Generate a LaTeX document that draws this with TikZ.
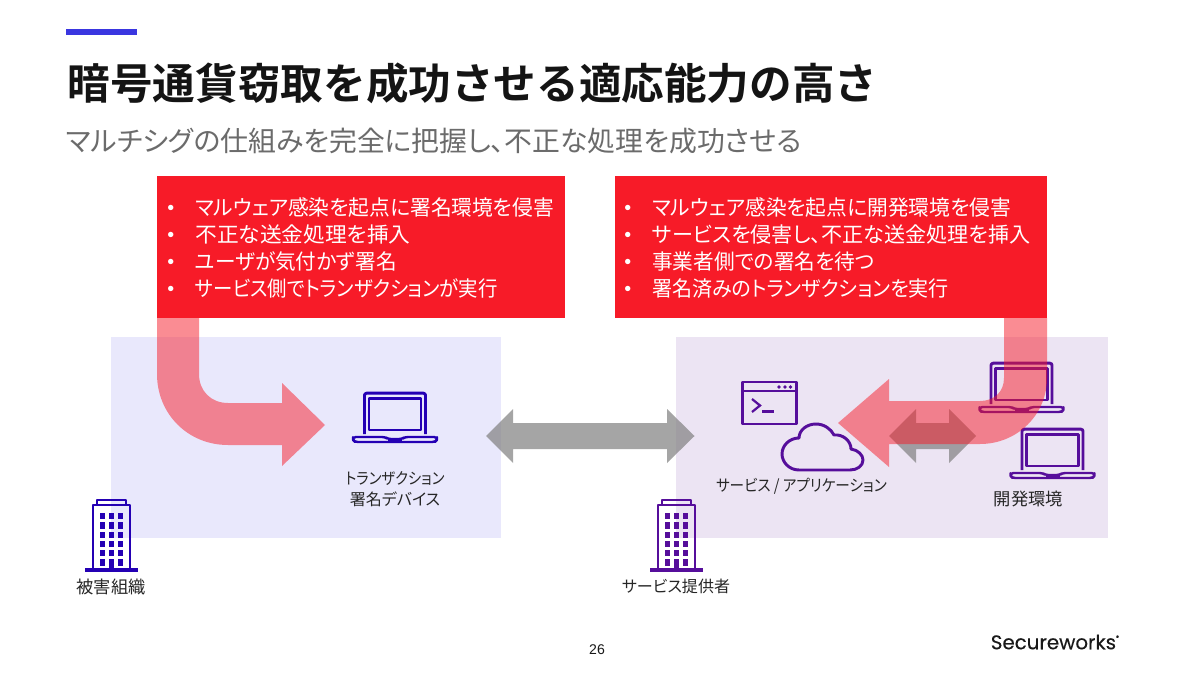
\documentclass[tikz,border=0pt]{standalone}
\usepackage{fontspec}
\setmainfont{Noto Sans CJK JP}[RawFeature=+palt]
\newfontfamily\titlefont{Noto Sans CJK JP Bold}
\newfontfamily\numfont{Liberation Sans}
\newfontfamily\logofont{Poppins}[FakeBold=0.25]
\definecolor{inkblue}{HTML}{2400B4}
\definecolor{inkpurple}{HTML}{560E9B}
\definecolor{alertred}{HTML}{F71B28}
\definecolor{barblue}{HTML}{3A36E0}
\definecolor{zoneblue}{HTML}{E9E8FC}
\definecolor{zonepurple}{HTML}{ECE4F3}
\tikzset{
  x=0.025cm,y=-0.025cm,
  zone/.style={fill=#1,draw=none},
  redbox/.style={fill=alertred,draw=none},
  flow/.style={fill=alertred,fill opacity=.5,draw=none},
  link/.style={fill=black!50,fill opacity=.7,draw=none},
  lbl/.style={inner sep=0pt,font=\fontsize{11.4pt}{15pt}\selectfont,text=black!85,align=center},
  lblk/.style={inner sep=0pt,font=\fontsize{12.3pt}{15pt}\selectfont,text=black!85,align=center},
  bul/.style={inner sep=0pt,anchor=west,text=white,font=\fontsize{15pt}{18pt}\selectfont},
  dot/.style={inner sep=0pt,anchor=west,text=white,font=\fontsize{14pt}{18pt}\selectfont},
  icon/.style={draw=#1,line width=2.1pt,fill=none,line join=round},
}
\newcommand{\laptopicon}[3]{% centre x, top y, colour
\begin{scope}[shift={(#1,#2)}]
  \draw[icon=#3,rounded corners=1.5pt] (-30.5,42) -- (-30.5,1.2) -- (30.5,1.2) -- (30.5,42);
  \draw[icon=#3,line width=1.8pt] (-26,6.5) rectangle (26,38);
  \draw[icon=#3,line width=1.7pt,rounded corners=2pt] (-42,45) -- (-10,45) -- (-7,47) -- (7,47) -- (10,45) -- (42,45) -- (42,48) -- (40,50) -- (-40,50) -- (-42,48) -- cycle;
  \fill[#3] (-7,46) rectangle (7,50);
\end{scope}}
\newcommand{\buildingicon}[2]{% left x offset, colour
\begin{scope}[shift={(#1,0)}]
  \draw[icon=#2,line width=2pt] (93,570) -- (93,505) -- (130,505) -- (130,570);
  \draw[icon=#2,line width=1.7pt] (97,505) -- (97,500) -- (126,500) -- (126,505);
  \draw[#2,line width=2.2pt] (85,570) -- (138,570);
  \foreach \wy in {513,522.3,531.6,541,550,559.3}{
    \foreach \wx in {100,109.2,118.4}{
      \fill[#2] (\wx,\wy) rectangle (\wx+5,\wy+6.2);
    }
  }
  \fill[#2] (109.2,559) rectangle (114.2,570);
\end{scope}}
\begin{document}
\begin{tikzpicture}
\useasboundingbox (0,0) rectangle (1200,675);
\fill[white] (0,0) rectangle (1200,675);
% header
\fill[barblue] (66,29.5) rectangle (137,35.5);
\node[inner sep=0pt,anchor=west,text=black!92] (title) at (67.5,83) {\titlefont\fontsize{30.3pt}{34pt}\selectfont 暗号通貨窃取を成功させる適応能力の高さ};
\node[inner sep=0pt,anchor=west,text=black!58] (subtitle) at (66,141) {\fontsize{19.8pt}{24pt}\selectfont マルチシグの仕組みを完全に把握し、不正な処理を成功させる};
% zones
\fill[zone=zoneblue] (111,337) rectangle (501,538);
\fill[zone=zonepurple] (676,337) rectangle (1108,538);
% grey links
\fill[link] (486,436) -- (513,409) -- (513,423) -- (667,423) -- (667,409) -- (694.5,436) -- (667,463) -- (667,449) -- (513,449) -- (513,463) -- cycle;
\fill[link] (889,436) -- (916,409) -- (916,423) -- (949,423) -- (949,409) -- (976,436) -- (949,463) -- (949,449) -- (916,449) -- (916,463) -- cycle;
% icons
\laptopicon{395}{392}{inkblue}
\laptopicon{1021.5}{362}{inkpurple}
\laptopicon{1052.5}{428}{inkpurple}
\buildingicon{0}{inkblue}
\buildingicon{565}{inkpurple}
\draw[icon=inkpurple,line width=1.6pt] (742.5,382) rectangle (796.5,424);
\draw[inkpurple,line width=1.6pt] (742.5,391) -- (796.5,391);
\foreach \dx in {779,785,790.5}{\fill[inkpurple] (\dx,387) circle (1.9);}
\draw[inkpurple,line width=1.6pt] (752,399) -- (760,405.5) -- (752,412);
\draw[inkpurple,line width=1.6pt] (762,411.5) -- (774,411.5);
\draw[icon=inkpurple] (799,470) .. controls (789,470) and (782,462) .. (782,454) .. controls (782,445) and (790,438) .. (799,438) .. controls (799,430) and (807,424) .. (816,424) .. controls (824,424) and (831,429) .. (834,435) .. controls (843,434) and (851,441) .. (851,449) .. controls (858,450) and (863,455) .. (863,460) .. controls (863,466) and (857,470) .. (850,470) -- cycle;
% red flows
\fill[flow] (157,318) -- (157,374) .. controls (157,414) and (188,445) .. (228,445) -- (282,445) -- (282,466) -- (325,425) -- (282,383) -- (282,403) -- (228,403) .. controls (211,403) and (199,391) .. (199,374) -- (199,318) -- cycle;
\fill[flow] (1047,318) -- (1047,378) .. controls (1047,415) and (1017,444) .. (980,444) -- (889,444) -- (889,467) -- (838,423) -- (889,379) -- (889,401) -- (980,401) .. controls (994,401) and (1004,392) .. (1004,378) -- (1004,318) -- cycle;
% red boxes
\fill[redbox] (157,176) rectangle (565,318);
\fill[redbox] (615,176) rectangle (1047,318);
\foreach \ly/\sc/\txt [count=\i] in {207/.983/マルウェア感染を起点に署名環境を侵害,234/1.03/不正な送金処理を挿入,261/.977/ユーザが気付かず署名,288/.92/サービス側でトランザクションが実行}{
  \node[bul] (la\i) at (195,\ly+.7) {\scalebox{\sc}[1]{\txt}};
  \node[dot] (lb\i) at (167,\ly+3) {\numfont •};
}
\foreach \ly/\sc/\txt [count=\i] in {207/.983/マルウェア感染を起点に開発環境を侵害,234/1.0/サービスを侵害し、不正な送金処理を挿入,261/.98/事業者側での署名を待つ,288/.95/署名済みのトランザクションを実行}{
  \node[bul] (ra\i) at (652,\ly+.7) {\scalebox{\sc}[1]{\txt}};
  \node[dot] (rb\i) at (624,\ly+3) {\numfont •};
}
% labels
\node[lbl] (device) at (395,489.5) {\scalebox{.89}[1]{トランザクション}\\署名デバイス};
\node[lbl] (service) at (801.5,486) {\scalebox{.91}[1]{サービス / アプリケーション}};
\node[lblk] (dev) at (1028.5,498.5) {開発環境};
\node[lblk] (victim) at (111,586.5) {被害組織};
\node[lbl] (provider) at (676,586.5) {サービス提供者};
% footer
\node[inner sep=0pt,text=black!90] (page) at (597,650) {\numfont\fontsize{10pt}{12pt}\selectfont 26};
\node[inner sep=0pt,anchor=west,text=black!90] (logo) at (990.5,642) {\logofont\fontsize{14.1pt}{16pt}\selectfont Secureworks\raisebox{.9ex}{\fontsize{4pt}{4pt}\selectfont ®}};
\end{tikzpicture}
\end{document}
